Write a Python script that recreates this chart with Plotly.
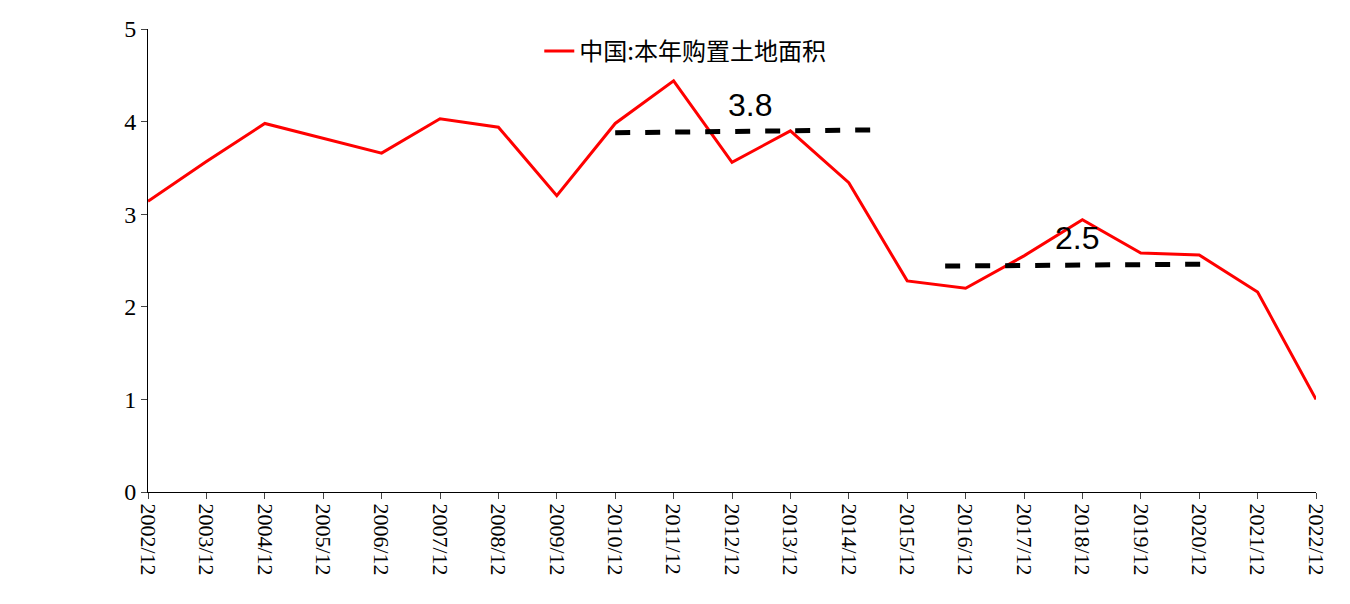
import plotly.graph_objects as go

years = list(range(2002, 2023))
labels = [f"{y}/12" for y in years]
values = [3.14, 3.57, 3.98, 3.82, 3.66, 4.03, 3.94, 3.20, 3.98, 4.44, 3.56, 3.90, 3.34,
          2.28, 2.20, 2.55, 2.94, 2.58, 2.56, 2.16, 1.00]
avg1_x = [2010, 2014.4]
avg1_y = [3.88, 3.91]
avg2_x = [2015.65, 2020.07]
avg2_y = [2.44, 2.46]
notes = [(2012.3, 4.18, "3.8"), (2017.9, 2.74, "2.5")]

serif = "Liberation Serif, Times New Roman, serif"
fig = go.Figure()
fig.add_trace(go.Scatter(x=years, y=values, mode="lines", name="中国:本年购置土地面积",
                         line=dict(color="#ff0000", width=3)))
for xs, ys in [(avg1_x, avg1_y), (avg2_x, avg2_y)]:
    fig.add_trace(go.Scatter(x=xs, y=ys, mode="lines", showlegend=False,
                             line=dict(color="black", width=5, dash="dash")))
for x, y, t in notes:
    fig.add_annotation(x=x, y=y, text=t, showarrow=False,
                       font=dict(size=32, color="black", family="Liberation Sans"))

fig.update_layout(
    width=1350, height=604, plot_bgcolor="white", paper_bgcolor="white",
    margin=dict(l=140, r=42, t=21, b=120, autoexpand=False),
    legend=dict(x=0.46, y=1.0, xanchor="center", yanchor="top", orientation="h",
                font=dict(size=24, family="Noto Sans CJK SC", color="black")),
)
fig.update_xaxes(range=[2002, 2022], tickvals=years, ticktext=labels, tickangle=90,
                 showline=True, linecolor="black", ticks="outside", ticklen=6,
                 automargin=False,
                 tickfont=dict(family=serif, size=22, color="black"),
                 showgrid=False, zeroline=False)
fig.update_yaxes(range=[0, 5], dtick=1, showline=True, linecolor="black",
                 ticks="outside", ticklen=6, automargin=False,
                 tickfont=dict(family=serif, size=24, color="black"),
                 showgrid=False, zeroline=False)
fig.write_html("out.html")
